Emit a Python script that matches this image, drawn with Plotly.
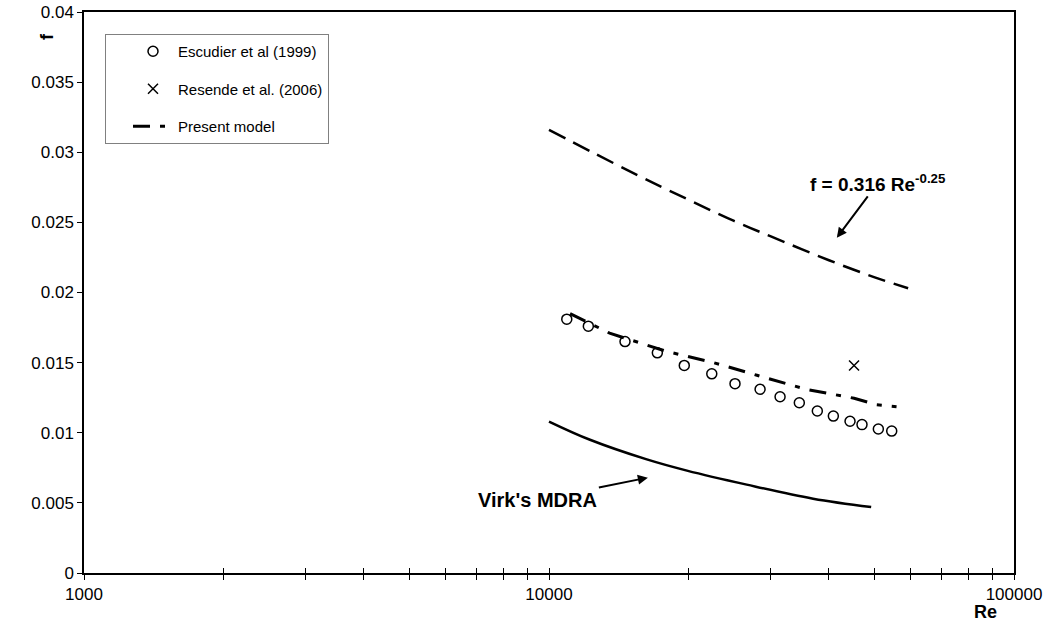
import plotly.graph_objects as go

# ---- data ----
esc_re = [10920, 12150, 14570, 17100, 19540, 22390, 25120, 28440, 31400,
          34540, 37760, 40880, 44400, 47110, 51080, 54580]
esc_f = [0.0181, 0.0176, 0.0165, 0.0157, 0.0148, 0.0142, 0.0135, 0.0131,
         0.01257, 0.01214, 0.01155, 0.01119, 0.01082, 0.01058, 0.01027, 0.01012]

res_re = [45290]
res_f = [0.0148]

model_re = [11100, 13500, 17900, 22570, 28000, 35700, 45300, 50600, 55900]
model_f = [0.0185, 0.0171, 0.0158, 0.0150, 0.0141, 0.0131, 0.01246, 0.0120, 0.01186]

blasius_re = [10000, 15000, 20000, 25000, 30000, 40000, 50000, 59200]
blasius_f = [0.0316, 0.0286, 0.0266, 0.0251, 0.0240, 0.0223, 0.0211, 0.0203]

virk_re = [10000, 12250, 16230, 19800, 26620, 36980, 49300]
virk_f = [0.0108, 0.0095, 0.0081, 0.0073, 0.0063, 0.0053, 0.0047]

x_tickvals = [1000, 2000, 3000, 4000, 5000, 6000, 7000, 8000, 9000,
              10000, 20000, 30000, 40000, 50000, 60000, 70000, 80000, 90000, 100000]
x_ticktext = ["1000", "", "", "", "", "", "", "", "",
              "10000", "", "", "", "", "", "", "", "", "100000"]
y_tickvals = [0, 0.005, 0.01, 0.015, 0.02, 0.025, 0.03, 0.035, 0.04]
y_ticktext = ["0", "0.005", "0.01", "0.015", "0.02", "0.025", "0.03", "0.035", "0.04"]

FONT = "Arial, Liberation Sans, sans-serif"
L, R, T, B = 84, 36, 12, 55
W, H = 1050, 628
pw, ph = W - L - R, H - T - B


def px2paper(px, py):
    return (px - L) / pw, (H - B - py) / ph


fig = go.Figure()

fig.add_trace(go.Scatter(
    x=esc_re, y=esc_f, mode="markers", name="Escudier et al (1999)",
    legendgroup="a",
    marker=dict(symbol="circle-open", size=10, color="black", line=dict(width=1.5, color="black")),
))
fig.add_trace(go.Scatter(
    x=res_re, y=res_f, mode="markers", name="Resende et al. (2006)",
    legendgroup="b",
    marker=dict(symbol="x-thin-open", size=10, color="black", line=dict(width=1.5, color="black")),
))
fig.add_trace(go.Scatter(
    x=model_re, y=model_f, mode="lines", name="Present model",
    legendgroup="c",
    line=dict(color="black", width=3, dash="17px,10px,5px,10px"),
))
fig.add_trace(go.Scatter(
    x=blasius_re, y=blasius_f, mode="lines", showlegend=False,
    line=dict(color="black", width=2.5, dash="18px,9px"), line_shape="spline",
))
fig.add_trace(go.Scatter(
    x=virk_re, y=virk_f, mode="lines", showlegend=False,
    line=dict(color="black", width=2.5), line_shape="spline",
))

# second x axis overlaid to give ticks that cross the axis line
fig.add_trace(go.Scatter(x=[1000], y=[0], xaxis="x2", mode="markers",
                         marker=dict(opacity=0), showlegend=False, hoverinfo="skip"))

fx, fy = px2paper(47, 37)
rx, ry = px2paper(985, 612)
lx, ly = px2paper(105, 34)

fig.update_layout(
    width=W, height=H,
    margin=dict(l=L, r=R, t=T, b=B, autoexpand=False),
    paper_bgcolor="white", plot_bgcolor="white",
    font=dict(family=FONT, size=15, color="black"),
    showlegend=True,
    legend=dict(
        x=lx, y=ly, xanchor="left", yanchor="top",
        bordercolor="#808080", borderwidth=1, bgcolor="white",
        font=dict(family=FONT, size=15, color="black"),
        tracegroupgap=15, traceorder="grouped", itemwidth=40, indentation=22,
    ),
    xaxis=dict(
        type="log", range=[3, 5], tickvals=x_tickvals, ticktext=x_ticktext,
        ticks="outside", ticklen=5, tickwidth=1, tickcolor="black",
        showline=True, linecolor="black", linewidth=1.5, mirror=True,
        showgrid=False, zeroline=False, automargin=False,
        tickfont=dict(family=FONT, size=17, color="black"),
    ),
    xaxis2=dict(
        type="log", range=[3, 5], overlaying="x", anchor="y", side="bottom",
        tickvals=x_tickvals, showticklabels=False, automargin=False,
        ticks="inside", ticklen=5, tickwidth=1, tickcolor="black",
        showline=False, showgrid=False, zeroline=False,
    ),
    yaxis=dict(
        range=[0, 0.04], tickvals=y_tickvals, ticktext=y_ticktext,
        ticks="outside", ticklen=5, tickwidth=1, tickcolor="black",
        showline=True, linecolor="black", linewidth=1.5, mirror=True,
        showgrid=False, zeroline=False, automargin=False,
        tickfont=dict(family=FONT, size=17, color="black"),
    ),
    annotations=[
        dict(x=4.619, y=0.0239, xref="x", yref="y",
             text="<b>f = 0.316 Re<sup>-0.25</sup></b>", showarrow=True,
             ax=41, ay=-55, arrowhead=2, arrowsize=1, arrowwidth=2, arrowcolor="black",
             font=dict(family=FONT, size=19, color="black")),
        dict(x=4.2126, y=0.0068, xref="x", yref="y",
             text="<b>Virk's MDRA</b>", showarrow=True,
             ax=-110, ay=22, arrowhead=2, arrowsize=1, arrowwidth=2, arrowcolor="black",
             font=dict(family=FONT, size=20, color="black")),
        dict(x=fx, y=fy, xref="paper", yref="paper", text="<b>f</b>", showarrow=False,
             xanchor="center", yanchor="middle",
             textangle=-90, font=dict(family=FONT, size=18, color="black")),
        dict(x=rx, y=ry, xref="paper", yref="paper", text="<b>Re</b>", showarrow=False,
             xanchor="center", yanchor="middle",
             font=dict(family=FONT, size=18, color="black")),
    ],
)

fig.write_html("out.html")
